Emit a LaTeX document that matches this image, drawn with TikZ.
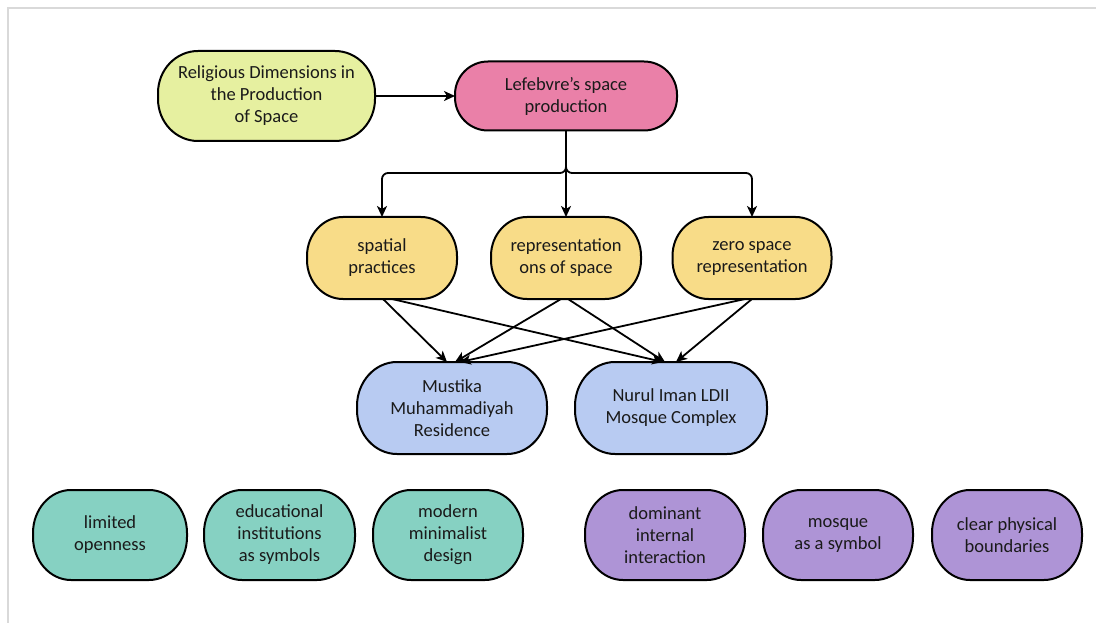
\documentclass[tikz,border=0pt]{standalone}
\usepackage{fontspec}
\setmainfont{Carlito}
\usetikzlibrary{arrows.meta}
\pgfdeclarelayer{background}
\pgfsetlayers{background,main}
\definecolor{ink}{HTML}{1A1A1A}
\definecolor{cRel}{HTML}{E6F0A0}
\definecolor{cLef}{HTML}{EA80A8}
\definecolor{cYel}{HTML}{F8DC88}
\definecolor{cBlu}{HTML}{B8CBF2}
\definecolor{cTea}{HTML}{86D1C2}
\definecolor{cPur}{HTML}{AE94D6}
\tikzset{
  box/.style={align=center, text=ink, inner sep=0pt, outer sep=0pt,
    font=\fontsize{18.5}{22}\selectfont},
  pillline/.style={draw=black, line width=2pt},
  arr/.style={line width=1.8pt, -{Stealth[length=11pt,width=10pt,inset=3pt]}},
  frameline/.style={draw=black!15, line width=2pt}
}
\newcommand\pillshape[4]{%
  \draw[pillline, fill=#4] ([xshift=#2]#1.north west) -- ([xshift=-#2]#1.north east)
    arc[start angle=90,end angle=0,x radius=#2,y radius=#3]
    -- ([yshift=#3]#1.south east)
    arc[start angle=0,end angle=-90,x radius=#2,y radius=#3]
    -- ([xshift=#2]#1.south west)
    arc[start angle=270,end angle=180,x radius=#2,y radius=#3]
    -- ([yshift=-#3]#1.north west)
    arc[start angle=180,end angle=90,x radius=#2,y radius=#3] -- cycle;}
\begin{document}
\begin{tikzpicture}[x=1pt,y=-1pt]
\useasboundingbox (0,0) rectangle (1096,623);
\draw[frameline] (8,623) -- (8,8) -- (1096,8);

% top row
\node[box, minimum width=217pt, minimum height=90pt] (rel) at (266.5,96)
  {Religious Dimensions in\\the Production\\of Space};
\node[box, minimum width=222pt, minimum height=69pt] (lef) at (566,96)
  {Lefebvre's space\\production};

% second row
\node[box, minimum width=150pt, minimum height=82pt] (sp) at (382,258)
  {spatial\\practices};
\node[box, minimum width=150pt, minimum height=82pt] (rp) at (566,258)
  {representation\\ons of space};
\node[box, minimum width=159pt, minimum height=82pt] (zr) at (752,258)
  {zero space\\representation};

% third row
\node[box, minimum width=190pt, minimum height=92pt] (mu) at (452,408)
  {Mustika\\Muhammadiyah\\Residence};
\node[box, minimum width=192pt, minimum height=92pt] (nu) at (671,408)
  {Nurul Iman LDII\\Mosque Complex};

% bottom row
\node[box, minimum width=154pt, minimum height=90pt] (lo) at (110,535)
  {limited\\openness};
\node[box, minimum width=151pt, minimum height=90pt] (ed) at (279.5,535)
  {educational\\institutions\\as symbols};
\node[box, minimum width=150pt, minimum height=90pt] (mo) at (448,535)
  {modern\\minimalist\\design};
\node[box, minimum width=160pt, minimum height=90pt] (di) at (665,535)
  {dominant\\internal\\interaction};
\node[box, minimum width=150pt, minimum height=90pt] (ms) at (838,535)
  {mosque\\as a symbol};
\node[box, minimum width=150pt, minimum height=90pt] (cp) at (1007,535)
  {clear physical\\boundaries};

\begin{pgfonlayer}{background}
  \pillshape{rel}{40pt}{42pt}{cRel}
  \pillshape{lef}{33pt}{33pt}{cLef}
  \pillshape{sp}{36pt}{39pt}{cYel}
  \pillshape{rp}{36pt}{39pt}{cYel}
  \pillshape{zr}{36pt}{39pt}{cYel}
  \pillshape{mu}{40pt}{44pt}{cBlu}
  \pillshape{nu}{40pt}{44pt}{cBlu}
  \pillshape{lo}{38pt}{43pt}{cTea}
  \pillshape{ed}{38pt}{43pt}{cTea}
  \pillshape{mo}{38pt}{43pt}{cTea}
  \pillshape{di}{38pt}{43pt}{cPur}
  \pillshape{ms}{38pt}{43pt}{cPur}
  \pillshape{cp}{38pt}{43pt}{cPur}
\end{pgfonlayer}

% connectors
\draw[arr] (rel.east) -- (lef.west);
\coordinate (j) at (566,173);
\draw[arr, rounded corners=6pt] (lef.south) -- (j) -| (sp.north);
\draw[arr, rounded corners=6pt] (lef.south) -- (j) -| (zr.north);
\draw[arr] (lef.south) -- (rp.north);

\draw[arr] ([xshift=1pt]sp.south) -- ([xshift=-5pt]mu.north);
\draw[arr] ([xshift=10pt]sp.south) -- ([xshift=-8pt]nu.north);
\draw[arr] ([xshift=-5pt]rp.south) -- ([xshift=3pt]mu.north);
\draw[arr] ([xshift=2pt]rp.south) -- ([xshift=-6pt]nu.north);
\draw[arr] ([xshift=-7pt]zr.south) -- ([xshift=8pt]mu.north);
\draw[arr] (zr.south) -- ([xshift=5pt]nu.north);
\end{tikzpicture}
\end{document}
